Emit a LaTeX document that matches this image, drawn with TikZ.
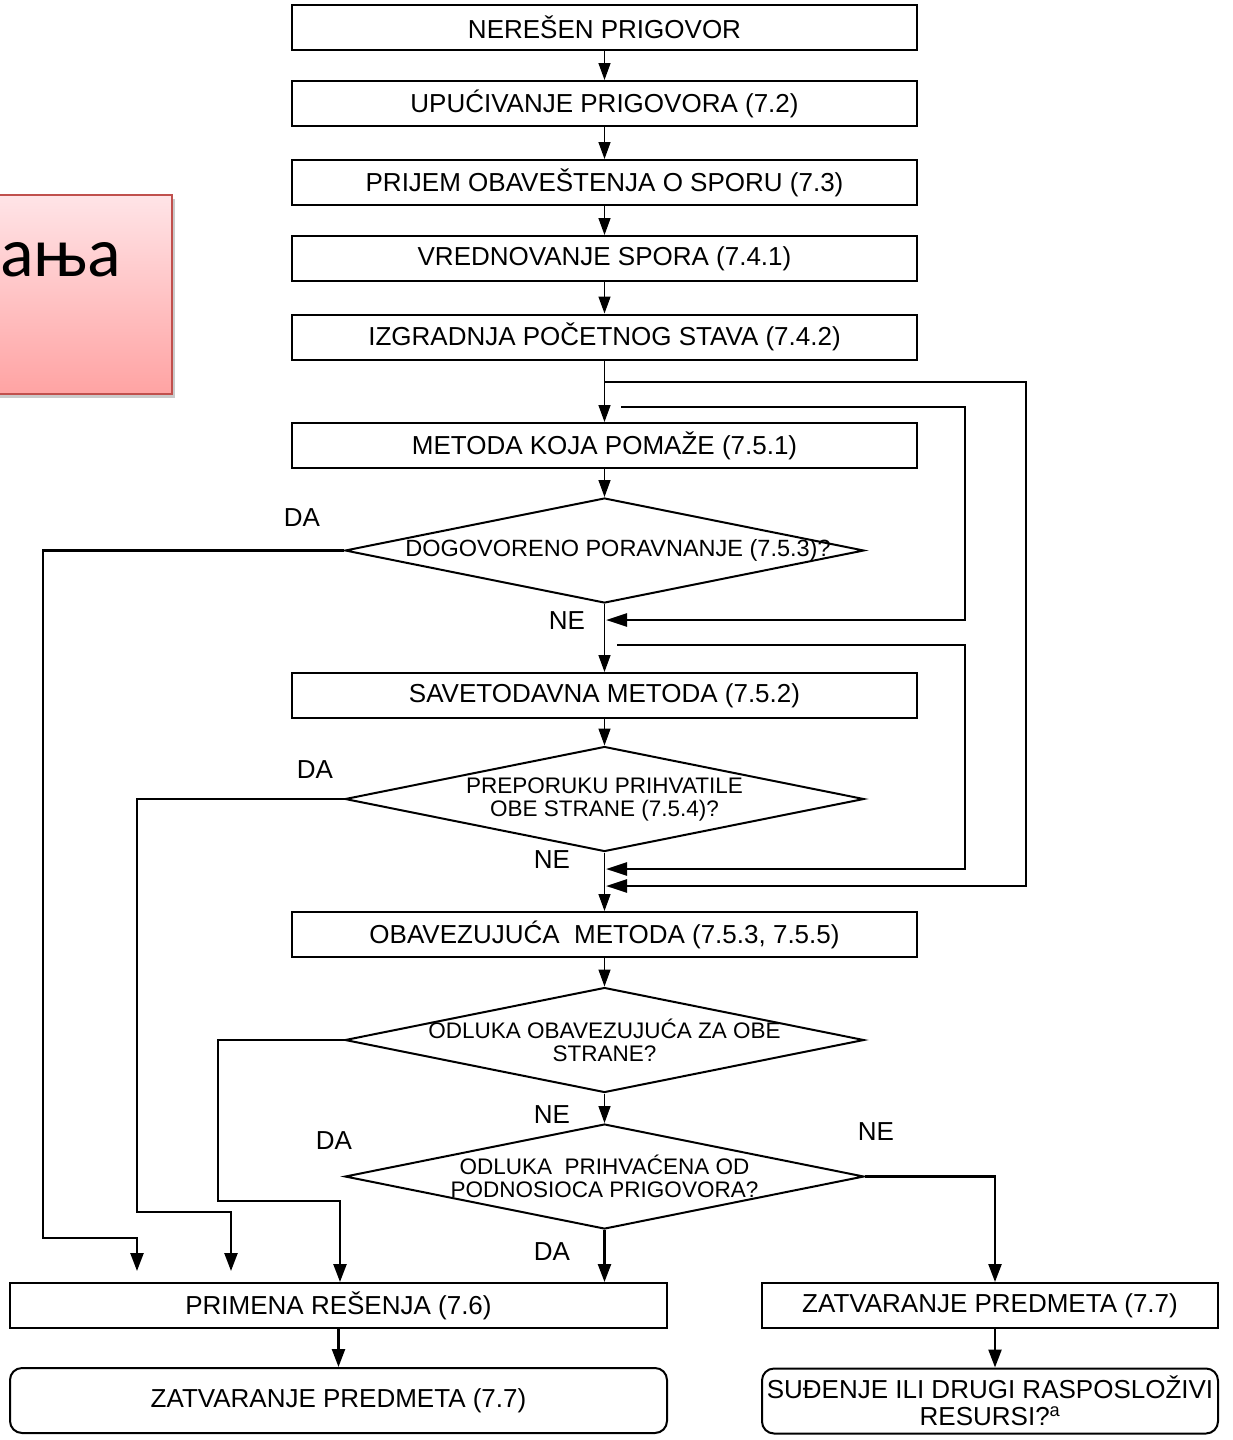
\documentclass[tikz,border=0pt]{standalone}
\usepackage{fontspec}
\setmainfont{Liberation Sans}
\newfontfamily\calfont{Carlito}
\usetikzlibrary{arrows.meta,shapes.geometric,shadows}
\definecolor{pinktop}{RGB}{255,228,231}
\definecolor{pinkbot}{RGB}{255,163,163}
\definecolor{pinkline}{RGB}{192,80,77}
\begin{document}
\begin{tikzpicture}[x=1pt,y=-1pt,
  box/.style={draw, line width=2pt, minimum width=625pt, minimum height=45pt, inner sep=0pt, font=\fontsize{26}{30}\selectfont},
  rbox/.style={box, rounded corners=12pt, minimum height=65pt, align=center, font=\fontsize{26}{27}\selectfont},
  decision/.style={draw, diamond, line width=2pt, minimum width=519pt, minimum height=105pt, inner sep=0pt},
  dtext/.style={align=center, inner sep=0pt, font=\fontsize{23.5}{23}\selectfont},
  dtextb/.style={align=center, inner sep=0pt, font=\fontsize{22.5}{23}\selectfont},
  lbl/.style={inner sep=0pt, font=\fontsize{26}{30}\selectfont},
  thinarr/.style={line width=1.4pt, -{Triangle[length=17pt,width=12pt]}},
  thickarr/.style={line width=2.4pt, -{Triangle[length=18pt,width=13pt]}},
  fbarr/.style={line width=2.4pt, -{Triangle[length=21pt,width=13pt]}},
  pinkbox/.style={draw=pinkline, line width=2pt, top color=pinktop, bottom color=pinkbot, minimum width=182pt, minimum height=199pt, inner sep=0pt, drop shadow={shadow xshift=3pt, shadow yshift=-4pt, opacity=0.35, fill=black!60}}
]
\useasboundingbox (0,0) rectangle (1232,1440);

% pink box
\node[pinkbox] (pk) at (81,294.5) {};
\node[anchor=base west, inner sep=0pt, font=\calfont\fontsize{70}{84}\selectfont] (pt) at (0,276) {ања};

% main boxes
\node[box] (b1) at (604.5,27.5) {NEREŠEN PRIGOVOR};
\node[box] (b2) at (604.5,103.5) {UPUĆIVANJE PRIGOVORA (7.2)};
\node[box] (b3) at (604.5,182.5) {PRIJEM OBAVEŠTENJA O SPORU (7.3)};
\node[box] (b4) at (604.5,258.5) {VREDNOVANJE SPORA (7.4.1)};
\node[box] (b5) at (604.5,337) {IZGRADNJA POČETNOG STAVA (7.4.2)};
\node[box] (b6) at (604.5,445.5) {METODA KOJA POMAŽE (7.5.1)};
\node[decision] (d1) at (604.5,550.5) {};
\node[dtext] (d1t) at (618,550.5) {DOGOVORENO PORAVNANJE (7.5.3)?};
\node[box] (b7) at (604.5,695.5) {SAVETODAVNA METODA (7.5.2)};
\node[decision] (d2) at (604.5,799) {};
\node[dtextb] (d2t) at (d2) {PREPORUKU PRIHVATILE\\OBE STRANE (7.5.4)?};
\node[box] (b8) at (604.5,934.5) {OBAVEZUJUĆA\ \ METODA (7.5.3, 7.5.5)};
\node[decision] (d3) at (604.5,1040) {};
\node[dtextb] (d3t) at (d3) {ODLUKA OBAVEZUJUĆA ZA OBE\\STRANE?};
\node[decision] (d4) at (604.5,1176.5) {};
\node[dtextb] (d4t) at (d4) {ODLUKA\ \ PRIHVAĆENA OD\\PODNOSIOCA PRIGOVORA?};

% bottom boxes
\node[box, minimum width=657pt] (b9) at (338.5,1305.5) {PRIMENA REŠENJA (7.6)};
\node[rbox, minimum width=657pt] (b10) at (338.5,1400.5) {ZATVARANJE PREDMETA (7.7)};
\node[box, minimum width=456pt] (b11) at (990,1305.5) {ZATVARANJE PREDMETA (7.7)};
\node[rbox, minimum width=456pt] (b12) at (990,1401) {SUĐENJE ILI DRUGI RASPOSLOŽIVI\\RESURSI?\textsuperscript{a}};

% labels
\node[lbl] (l1) at (302,518) {DA};
\node[lbl] (l2) at (567,621) {NE};
\node[lbl] (l3) at (315,770) {DA};
\node[lbl] (l4) at (552,860) {NE};
\node[lbl] (l5) at (552,1115) {NE};
\node[lbl] (l6) at (334,1141) {DA};
\node[lbl] (l7) at (876,1132) {NE};
\node[lbl] (l8) at (552,1252) {DA};

% main flow
\draw[thinarr] (b1) -- (b2);
\draw[thinarr] (b2) -- (b3);
\draw[thinarr] (b3) -- (b4);
\draw[thinarr] (b4) -- (b5);
\draw[thinarr] (b5) -- (b6);
\draw[thinarr] (b6) -- (d1);
\draw[thinarr] (d1) -- (b7);
\draw[thinarr] (b7) -- (d2);
\draw[thinarr] (d2) -- (b8);
\draw[thinarr] (b8) -- (d3);
\draw[thinarr] (d3) -- (d4);
\draw[thickarr] (d4.south) -- (d4.south |- b9.north);
\draw[thickarr] (b9) -- (b10);

% feedback loops
\coordinate (j1) at (604.5,382);
\coordinate (t1) at (606,886);
\draw[fbarr] (j1) -- (1026,382) -- (1026,886) -- (t1);
\coordinate (s2) at (621,407);
\coordinate (t2) at (606,620);
\draw[fbarr] (s2) -- (965,407) -- (965,620) -- (t2);
\coordinate (s3) at (617,645);
\coordinate (t3) at (606,869);
\draw[fbarr] (s3) -- (965,645) -- (965,869) -- (t3);

% DA branches to PRIMENA RESENJA
\coordinate (e1) at (137,1271);
\coordinate (e2) at (231,1271);
\draw[thickarr] (d1.west) -- (43,550.5) -- (43,1238) -- (137,1238) -- (e1);
\draw[thickarr] (d2.west) -- (137,799) -- (137,1212) -- (231,1212) -- (e2);
\coordinate (e3) at (340,1282);
\draw[thickarr] (d3.west) -- (218,1040) -- (218,1201) -- (340,1201) -- (e3);

% NE branch to right
\coordinate (r1) at (995,1282);
\draw[thickarr] (d4.east) -| (r1);
\draw[thickarr] (b11.south -| r1) -- (b12.north -| r1);
\end{tikzpicture}
\end{document}
